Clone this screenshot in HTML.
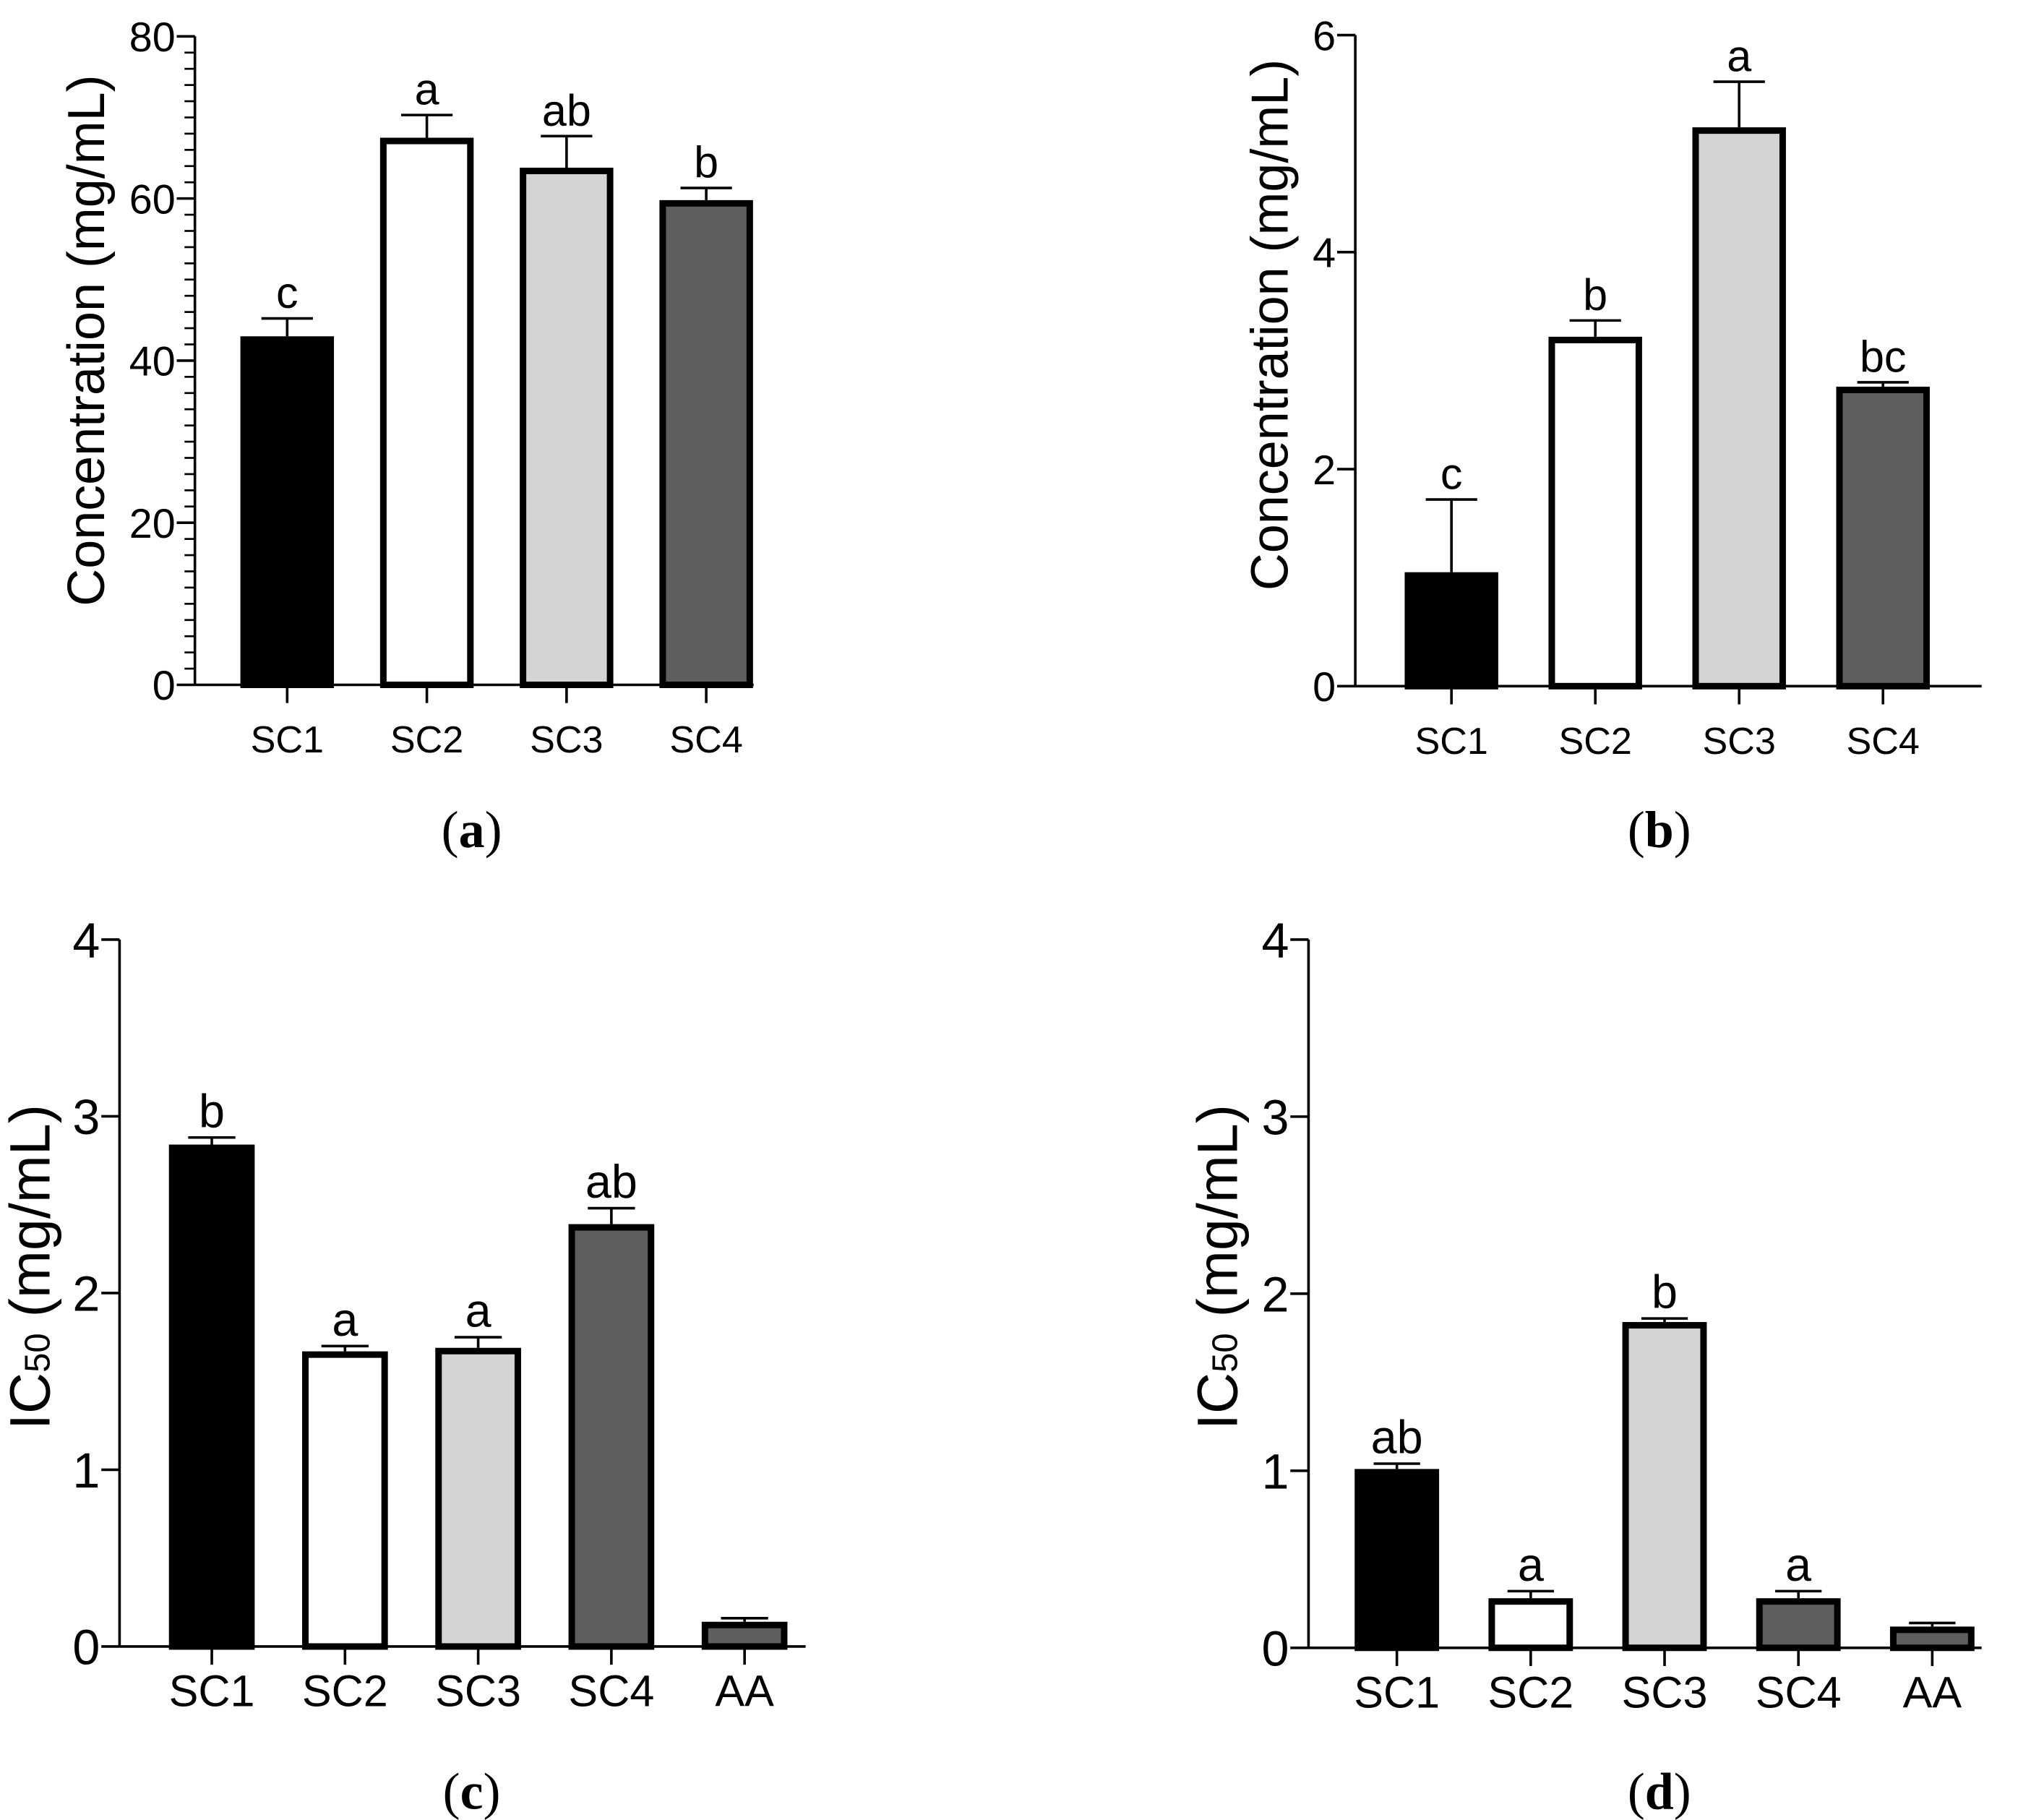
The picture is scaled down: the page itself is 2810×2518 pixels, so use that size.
<!DOCTYPE html>
<html><head><meta charset="utf-8"><style>
html,body{margin:0;padding:0;background:#fff;}
svg{display:block;}
text{font-family:"Liberation Sans",Arial,sans-serif;fill:#000;}
.pl{font-family:"Liberation Serif",serif;font-size:40px;}
</style></head><body>
<svg id="fig" width="2810" height="2518" viewBox="0 0 1563 1400.5" preserveAspectRatio="none" xmlns="http://www.w3.org/2000/svg"></svg>
<script>
// Panel (a)
const catsA = ["SC1","SC2","SC3","SC4"];
const valsA = [43, 67.5, 63.8, 59.8];
const errA = [2.2, 2.8, 3.9, 1.5];
const sigA = ["c","a","ab","b"];
const ticksA = [0,20,40,60,80];
// Panel (b)
const catsB = ["SC1","SC2","SC3","SC4"];
const valsB = [1.05, 3.22, 5.15, 2.76];
const errB = [0.67, 0.15, 0.42, 0.04];
const sigB = ["c","b","a","bc"];
const ticksB = [0,2,4,6];
// Panel (c)
const catsC = ["SC1","SC2","SC3","SC4","AA"];
const valsC = [2.84, 1.67, 1.69, 2.39, 0.14];
const errC = [0.04, 0.03, 0.06, 0.09, 0.02];
const sigC = ["b","a","a","ab",""];
const ticksC = [0,1,2,3,4];
// Panel (d)
const catsD = ["SC1","SC2","SC3","SC4","AA"];
const valsD = [1.01, 0.28, 1.84, 0.28, 0.12];
const errD = [0.03, 0.04, 0.02, 0.04, 0.02];
const sigD = ["ab","a","b","a",""];
const ticksD = [0,1,2,3,4];

const fills = ["#000","#fff","#d4d4d4","#5e5e5e","#5e5e5e"];
const NS = "http://www.w3.org/2000/svg";
const svg = document.getElementById("fig");
function mk(tag, attrs, parent, txt){
  const e = document.createElementNS(NS, tag);
  for (const k in attrs) e.setAttribute(k, attrs[k]);
  if (txt !== undefined) e.textContent = txt;
  (parent || svg).appendChild(e);
  return e;
}
function panel(cfg){
  const g = mk("g", {});
  
  
  const ymax = cfg.ticks[cfg.ticks.length-1];
  const y = v => cfg.y0 - (v/ymax)*(cfg.y0-cfg.yTop);
  const x = i => cfg.xStart + i*cfg.step;
  cfg.vals.forEach((v,i)=>{
    const cx = x(i), hw = cfg.bw/2;
    const top = y(v), et = y(v+cfg.err[i]);
    const eb = mk("line",{x1:cx,x2:cx,y1:top,y2:et,stroke:"#000","stroke-width":2},g);
    
    
    const cap = mk("line",{x1:cx-hw*0.55,x2:cx+hw*0.55,y1:et,y2:et,stroke:"#000","stroke-width":2},g);
    
    
    const r = mk("rect",{x:cx-hw+2.5,y:top+2.5,width:cfg.bw-5,height:Math.max(0,cfg.y0-top-2.5),fill:fills[i],stroke:"#000","stroke-width":5},g);
    
    
    if (cfg.sig[i]) {
      const t = mk("text",{x:cx,y:et-8,"text-anchor":"middle","font-size":cfg.sigFs},g,cfg.sig[i]);
      
      
    }
    const tk = mk("line",{x1:cx,x2:cx,y1:cfg.y0,y2:cfg.y0+14,stroke:"#000","stroke-width":2},g);
    
    
    const lb = mk("text",{x:cx,y:cfg.y0+cfg.catDy,"text-anchor":"middle","font-size":cfg.catFs},g,cfg.cats[i]);
    
    
  });
  const ya = mk("line",{x1:cfg.ax,x2:cfg.ax,y1:cfg.yTop,y2:cfg.y0,stroke:"#000","stroke-width":2},g);
  
  
  const xa = mk("line",{x1:cfg.ax,x2:cfg.xEnd,y1:cfg.y0,y2:cfg.y0,stroke:"#000","stroke-width":2},g);
  
  
  if (cfg.minor) {
    for (let v=0; v<=ymax+1e-9; v+=cfg.minor) {
      const m = mk("line",{x1:cfg.ax-8,x2:cfg.ax,y1:y(v),y2:y(v),stroke:"#000","stroke-width":1.5},g);
      
      
    }
  }
  cfg.ticks.forEach(v=>{
    const t = mk("line",{x1:cfg.ax-14,x2:cfg.ax,y1:y(v),y2:y(v),stroke:"#000","stroke-width":2},g);
    
    
    const l = mk("text",{x:cfg.ax-15,y:y(v)+cfg.tickFs*0.36,"text-anchor":"end","font-size":cfg.tickFs},g,String(v));
    
    
  });
  const ty = mk("text",{x:0,y:0,"text-anchor":"middle","font-size":cfg.titleFs,transform:`translate(${cfg.titleX},${cfg.titleY}) rotate(-90)`},g);
  
  
  if (cfg.ic) {
    mk("tspan",{},ty,"IC");
    mk("tspan",{"font-size":cfg.titleFs*0.62},ty,"50");
    mk("tspan",{},ty,"\u00a0(mg/mL)");
  } else {
    ty.textContent = "Concentration (mg/mL)";
  }
  const pl = mk("text",{x:cfg.plX,y:cfg.plY,"text-anchor":"middle",class:"pl"},g);
  
  
  mk("tspan",{},pl,"(");
  mk("tspan",{"font-weight":"bold"},pl,cfg.letter);
  mk("tspan",{},pl,")");
}
panel({name:"panel-a",cats:catsA,vals:valsA,err:errA,sig:sigA,ticks:ticksA,ax:150,xEnd:580,y0:527,yTop:28,xStart:221,step:107.5,bw:72,minor:2,tickFs:32,catFs:29,catDy:52,sigFs:34,titleFs:40,titleX:80,titleY:262,plX:363,plY:652,letter:"a",ic:false});
panel({name:"panel-b",cats:catsB,vals:valsB,err:errB,sig:sigB,ticks:ticksB,ax:1043,xEnd:1525,y0:528,yTop:27,xStart:1117,step:110.7,bw:72,minor:0,tickFs:32,catFs:29,catDy:52,sigFs:34,titleFs:40,titleX:991,titleY:250,plX:1277,plY:652,letter:"b",ic:false});
panel({name:"panel-c",cats:catsC,vals:valsC,err:errC,sig:sigC,ticks:ticksC,ax:92,xEnd:620,y0:1267,yTop:723,xStart:163,step:102.5,bw:66,minor:0,tickFs:38,catFs:34,catDy:46,sigFs:36,titleFs:44,titleX:38,titleY:975,plX:363,plY:1392,letter:"c",ic:true});
panel({name:"panel-d",cats:catsD,vals:valsD,err:errD,sig:sigD,ticks:ticksD,ax:1007,xEnd:1525,y0:1268,yTop:723,xStart:1075,step:103,bw:65,minor:0,tickFs:38,catFs:34,catDy:46,sigFs:36,titleFs:44,titleX:952,titleY:975,plX:1277,plY:1392,letter:"d",ic:true});
</script>
</body></html>
